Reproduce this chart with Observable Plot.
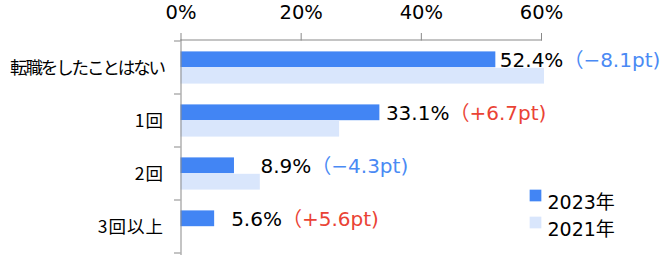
<!DOCTYPE html>
<html><head><meta charset="utf-8">
<script src="https://cdn.jsdelivr.net/npm/d3@7"></script>
<script src="https://cdn.jsdelivr.net/npm/@observablehq/plot@0.6"></script>
<style>body{margin:0;background:#fff}#chart svg{display:block}</style>
</head><body><div id="chart"></div>
<script>
// ---- data ----
const categories = ["転職をしたことはない", "1回", "2回", "3回以上"];
const seriesNames = ["2023年", "2021年"];
const values2023 = [52.4, 33.1, 8.9, 5.6];
const values2021 = [60.5, 26.4, 13.2, 0.0];
const valueLabels = ["52.4%", "33.1%", "8.9%", "5.6%"];
const deltaLabels = ["（−8.1pt)", "（+6.7pt)", "（−4.3pt)", "（+5.6pt)"];
const xTicks = [0, 20, 40, 60];
const xTickLabels = ["0%", "20%", "40%", "60%"];

// ---- layout ----
const W = 668, H = 260;
const mL = 180.5, mR = 127, mT = 39.5, mB = 6;
const pxPerPct = (W - mL - mR) / 60;
const labelNudgePx = [4, 6, 26, 16.5];
const C23 = "#4285f4", C21 = "#d9e6fc", AX = "#898989";
const NUM_FONT = "'DejaVu Sans', 'Noto Sans CJK JP', sans-serif";
const JP_FONT = "'Noto Sans CJK JP', sans-serif";
const seriesColors = [C23, C21];

const rows = categories.map((c, i) => ({
  i, cat: c, v23: values2023[i], v21: values2021[i], vl: valueLabels[i], dl: deltaLabels[i]
}));

const legendMarks = seriesNames.flatMap((s, i) => [
  Plot.dot([s], {x: null, y: null, frameAnchor: "top-left", dx: 354.5, dy: 155.5 + i * 27,
    symbol: "square", r: 6.6, fill: seriesColors[i]}),
  Plot.text([s], {x: null, y: null, frameAnchor: "top-left", dx: 366.5, dy: 155 + i * 27,
    text: d => d, textAnchor: "start", fontSize: 19, fontFamily: NUM_FONT, fill: "#000"})
]);

const chart = Plot.plot({
  width: W, height: H,
  marginLeft: mL, marginRight: mR, marginTop: mT, marginBottom: mB,
  style: {background: "#fff", overflow: "visible", color: "#000"},
  x: {domain: [0, 60]},
  y: {domain: categories, padding: 0},
  marks: [
    Plot.barX(rows, {x: "v23", y: "cat", fill: C23, insetTop: 10.4, insetBottom: 26.8}),
    Plot.barX(rows, {x: "v21", y: "cat", fill: C21, insetTop: 26.8, insetBottom: 10.4}),
    Plot.frame({anchor: "left", stroke: AX}),
    Plot.frame({anchor: "top", stroke: AX}),
    Plot.axisX({anchor: "top", ticks: xTicks, tickSize: 7.5, tickPadding: 14,
      tickFormat: d => xTickLabels[xTicks.indexOf(d)], stroke: AX, fill: "#000",
      fontSize: 19.5, fontFamily: NUM_FONT, label: null}),
    Plot.axisY({anchor: "left", tickSize: 0, tickPadding: 17, fontSize: 17.5,
      fontFamily: JP_FONT, fill: "#000", label: null}),
    Plot.text(rows, {x: d => d.v23 + labelNudgePx[d.i] / pxPerPct, y: "cat", text: "vl",
      textAnchor: "start", dy: -7.3, fontSize: 20, fontFamily: NUM_FONT, fill: "#000"}),
    ...legendMarks
  ]
});
document.getElementById("chart").append(chart);

const svg = d3.select(chart);
// category label spacing (kana in the original font are narrow)
svg.selectAll('g[aria-label="y-axis tick label"] text').each(function() {
  const t = d3.select(this);
  const long = t.text().length > 5;
  t.style("letter-spacing", long ? "-2.1px" : "1px");
});
// coloured deltas appended to the value labels (first plain text mark)
const valueGroup = svg.selectAll('g[aria-label="text"]').nodes()[0];
d3.select(valueGroup).selectAll("text").each(function(d, i) {
  const neg = deltaLabels[i].includes("−");
  d3.select(this).append("tspan").attr("fill", neg ? "#4a8af4" : "#ea4335").text(deltaLabels[i]);
});
// category boundary ticks
const ys = chart.scale("y");
const bounds = categories.map(c => ys.apply(c));
bounds.push(bounds[bounds.length - 1] + ys.bandwidth);
svg.append("g").selectAll("line").data(bounds).join("line")
  .attr("x1", mL - 6.5).attr("x2", mL).attr("y1", d => d).attr("y2", d => d)
  .attr("stroke", AX);
</script>
</body></html>
